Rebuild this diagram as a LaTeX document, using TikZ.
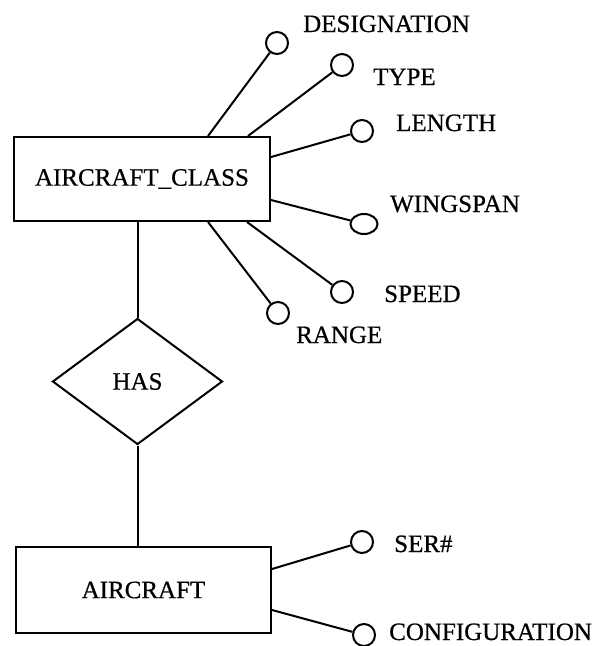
\documentclass[tikz,border=0pt]{standalone}
\usepackage{fontspec}
\setmainfont{Liberation Serif}[FakeBold=0.6]
\usetikzlibrary{shapes.geometric}
\tikzset{
  entity/.style={draw,line width=2pt,minimum width=256pt,minimum height=84pt,inner sep=0pt},
  rel/.style={draw,diamond,line width=2pt,minimum width=170pt,minimum height=126pt,inner sep=0pt},
  attr/.style={draw,circle,line width=2pt,minimum size=22pt,inner sep=0pt},
  oval/.style={draw,ellipse,line width=2pt,minimum width=27pt,minimum height=20pt,inner sep=0pt},
  lbl/.style={anchor=base west,inner sep=0pt},
  link/.style={line width=2pt},
}
\begin{document}
\begin{tikzpicture}[x=1pt,y=-1pt,font=\fontsize{25}{30}\selectfont]
  \useasboundingbox (0,0) rectangle (607,646);
  % entities and relationship
  \node[entity] (acls) at (142,179) {AIRCRAFT\_CLASS};
  \node[rel] (has) at (137.5,381.5) {HAS};
  \node[entity,minimum width=255pt,minimum height=86pt] (acft) at (143.5,590) {AIRCRAFT};
  \draw[link] (has.north) -- (has.north |- acls.south);
  \draw[link] (has.south) -- (has.south |- acft.north);
  % attributes of AIRCRAFT_CLASS
  \node[attr] (desig) at (277,43) {};
  \node[attr] (type) at (342,65) {};
  \node[attr] (len) at (362,131) {};
  \node[oval] (wing) at (364,224) {};
  \node[attr] (speed) at (342,292) {};
  \node[attr] (range) at (278,313) {};
  \node[lbl] (desigl) at (303,32) {DESIGNATION};
  \node[lbl] (typel) at (373,85) {TYPE};
  \node[lbl] (lenl) at (396,131) {LENGTH};
  \node[lbl] (wingl) at (390,212) {WINGSPAN};
  \node[lbl] (speedl) at (384,302) {SPEED};
  \node[lbl] (rangel) at (296,343) {RANGE};
  \draw[link] ([xshift=66pt]acls.north) -- (desig);
  \draw[link] ([xshift=106pt]acls.north) -- (type);
  \draw[link] ([yshift=22pt]acls.east) -- (len);
  \draw[link] ([yshift=-21pt]acls.east) -- (wing);
  \draw[link] ([xshift=105pt]acls.south) -- (speed);
  \draw[link] ([xshift=66pt]acls.south) -- (range);
  % attributes of AIRCRAFT
  \node[attr] (ser) at (362,542) {};
  \node[attr] (conf) at (364,635) {};
  \node[lbl] (serl) at (394,552) {SER\#};
  \node[lbl] (confl) at (389,640) {CONFIGURATION};
  \draw[link] ([yshift=21pt]acft.east) -- (ser);
  \draw[link] ([yshift=-20pt]acft.east) -- (conf);
\end{tikzpicture}
\end{document}
